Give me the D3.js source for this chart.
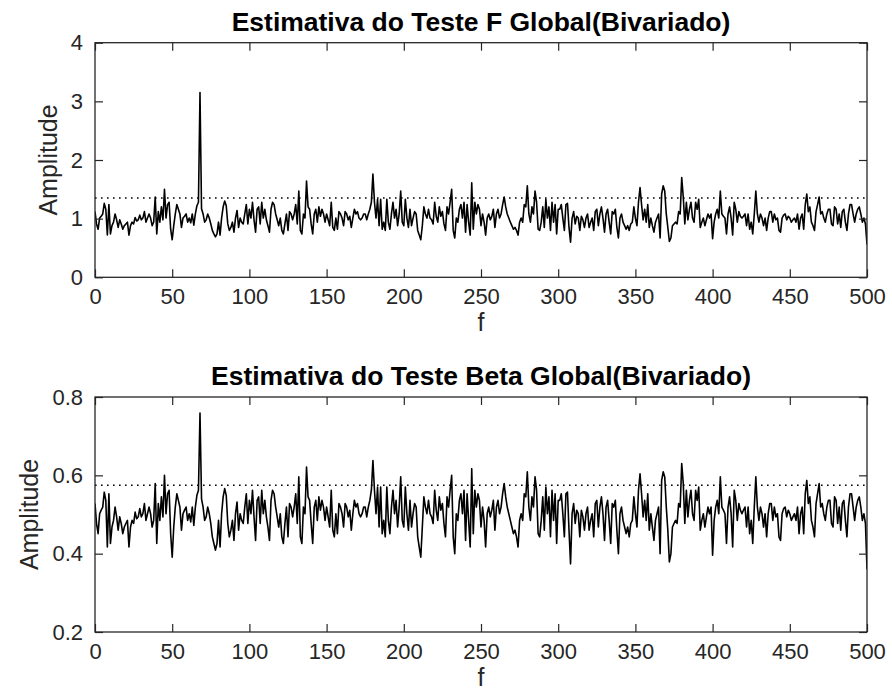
<!DOCTYPE html>
<html>
<head>
<meta charset="utf-8">
<script src="https://cdn.jsdelivr.net/npm/d3@7"></script>
<style>
  html, body { margin: 0; padding: 0; background: #ffffff; }
  svg { display: block; }
</style>
</head>
<body>
<svg id="chart" width="892" height="700"></svg>
<script>
// ---------------- DATA ----------------
const freqStart = 0;          // first frequency bin
const xTicks = [0, 50, 100, 150, 200, 250, 300, 350, 400, 450, 500];
const yTicksF = [0, 1, 2, 3, 4];
const yTicksBeta = [0.2, 0.4, 0.6, 0.8];
const titleF = "Estimativa do Teste F Global(Bivariado)";
const titleBeta = "Estimativa do Teste Beta Global(Bivariado)";
const yLabel = "Amplitude";
const xLabel = "f";
const thresholdF = 1.35;
const thresholdBeta = 0.575;

const valuesF = [
1.12,0.91,0.82,1.01,1.04,1.08,1.26,1.16,0.72,1.24,
0.74,0.88,0.94,1.08,0.98,0.85,0.98,0.91,0.82,0.88,
0.91,0.94,0.72,0.88,0.94,0.91,1.02,0.96,0.98,1.06,
0.98,1.01,1.12,0.94,1.01,1.08,1.01,0.88,0.94,1.37,
0.74,1.12,0.94,1.20,0.98,1.50,1.01,1.24,1.28,0.82,
0.64,0.88,1.08,1.24,1.16,1.08,0.85,1.01,1.04,1.08,
0.94,1.01,0.93,1.08,0.89,1.08,1.22,1.28,3.15,1.17,
1.08,0.94,0.98,1.08,1.01,0.91,0.80,0.74,0.69,0.74,
0.94,0.72,1.01,1.20,1.30,1.22,0.91,0.80,0.85,0.94,
0.77,1.01,1.14,0.85,1.01,0.94,0.91,1.08,1.24,0.91,
1.16,1.01,1.28,0.98,0.77,1.16,1.20,0.91,1.28,1.01,
1.16,0.98,0.88,0.77,1.16,1.28,1.24,1.08,0.98,0.88,
1.01,0.80,0.74,0.91,1.08,0.80,1.12,1.08,0.98,1.08,
1.24,0.91,1.47,0.80,0.74,1.08,1.01,1.64,1.20,1.16,
0.91,0.74,1.08,1.16,0.94,1.20,1.04,1.16,1.08,0.94,
1.08,0.98,0.88,1.28,0.85,0.80,1.01,0.82,1.12,1.08,
1.01,0.88,1.12,1.08,0.98,1.04,0.85,1.01,1.16,1.08,
1.12,1.01,0.98,1.01,1.08,1.08,0.98,1.08,1.16,1.28,
1.76,1.28,1.01,1.33,0.88,1.33,0.82,0.94,0.80,1.33,
0.94,0.82,1.08,1.28,1.01,1.16,0.88,1.08,1.47,0.94,
0.88,1.33,1.01,0.85,1.16,0.88,1.01,1.12,1.08,0.80,
0.72,0.64,0.88,1.20,1.08,1.01,1.16,1.01,0.98,0.91,
1.28,1.04,0.94,1.20,1.04,1.12,0.91,0.80,1.20,1.08,
1.28,1.50,0.80,0.67,1.01,0.94,1.16,1.24,1.01,1.28,
0.77,1.24,0.94,0.72,1.61,0.82,1.28,1.08,1.24,1.16,
0.88,1.08,0.94,0.72,1.01,1.08,0.98,1.04,1.16,0.85,
1.08,1.16,1.01,1.08,1.24,1.37,1.20,1.08,1.01,0.94,
0.88,0.82,0.85,0.80,0.72,0.94,1.01,0.94,1.24,1.20,
1.56,1.08,0.94,1.20,1.08,1.47,1.28,0.82,0.80,0.94,
1.20,0.85,1.33,1.01,1.20,0.80,1.28,0.94,1.24,0.74,
1.16,1.16,1.24,1.01,0.80,1.24,1.26,0.85,0.60,1.01,
1.12,0.91,1.04,1.01,0.80,1.04,0.98,0.85,1.01,1.08,
0.85,0.94,1.01,0.80,1.12,1.16,0.88,1.08,1.20,1.01,
0.77,1.08,1.16,0.94,0.74,1.12,1.08,1.16,0.85,0.67,
1.01,1.08,0.94,0.88,0.82,0.88,0.80,0.91,0.94,1.20,
1.01,0.88,1.28,1.53,1.24,0.98,1.16,0.94,1.24,0.85,
1.01,0.88,0.77,0.94,1.01,1.08,0.67,1.42,1.56,1.47,
1.08,0.85,0.61,0.67,0.88,0.91,0.94,0.91,1.12,1.08,
1.70,1.37,0.91,1.28,0.98,1.16,1.28,1.01,0.94,1.28,
1.16,1.33,0.85,0.94,1.01,0.88,0.98,1.08,1.01,1.08,
0.66,0.94,1.08,1.16,1.01,1.47,1.08,1.04,1.01,0.74,
1.08,1.20,1.01,0.72,1.28,1.16,0.94,1.12,1.04,1.01,
1.04,1.08,0.88,1.08,0.82,0.94,0.74,1.08,1.47,1.08,
0.94,1.08,1.01,0.88,1.01,0.80,1.01,1.12,1.12,0.94,
1.08,0.98,1.01,0.80,0.77,1.01,1.06,1.08,0.98,1.04,
1.01,0.94,0.98,1.01,0.94,1.08,0.82,1.01,1.08,0.82,
1.24,1.42,1.12,1.20,0.94,0.88,0.80,1.12,1.24,1.37,
1.08,1.12,1.01,0.94,1.08,1.16,1.16,0.91,0.88,1.20,
1.16,0.91,1.08,0.85,1.12,1.16,0.94,0.80,1.08,1.24,
1.24,1.08,0.94,1.08,1.16,1.20,1.08,0.94,1.01,0.91,
0.56];

const valuesBeta = [
0.528,0.477,0.451,0.502,0.511,0.519,0.557,0.536,0.417,0.553,
0.426,0.468,0.485,0.519,0.494,0.460,0.494,0.477,0.451,0.468,
0.477,0.485,0.417,0.468,0.485,0.477,0.506,0.489,0.494,0.515,
0.494,0.502,0.528,0.485,0.502,0.519,0.502,0.468,0.485,0.579,
0.426,0.528,0.485,0.545,0.494,0.600,0.502,0.553,0.562,0.451,
0.391,0.468,0.519,0.553,0.536,0.519,0.460,0.502,0.511,0.519,
0.485,0.502,0.481,0.519,0.472,0.519,0.549,0.562,0.759,0.540,
0.519,0.485,0.494,0.519,0.502,0.477,0.443,0.426,0.409,0.426,
0.485,0.417,0.502,0.545,0.566,0.549,0.477,0.443,0.460,0.485,
0.434,0.502,0.532,0.460,0.502,0.485,0.477,0.519,0.553,0.477,
0.536,0.502,0.562,0.494,0.434,0.536,0.545,0.477,0.562,0.502,
0.536,0.494,0.468,0.434,0.536,0.562,0.553,0.519,0.494,0.468,
0.502,0.443,0.426,0.477,0.519,0.443,0.528,0.519,0.494,0.519,
0.553,0.477,0.596,0.443,0.426,0.519,0.502,0.621,0.545,0.536,
0.477,0.426,0.519,0.536,0.485,0.545,0.511,0.536,0.519,0.485,
0.519,0.494,0.468,0.562,0.460,0.443,0.502,0.451,0.528,0.519,
0.502,0.468,0.528,0.519,0.494,0.511,0.460,0.502,0.536,0.519,
0.528,0.502,0.494,0.502,0.519,0.519,0.494,0.519,0.536,0.562,
0.638,0.562,0.502,0.570,0.468,0.570,0.451,0.485,0.443,0.570,
0.485,0.451,0.519,0.562,0.502,0.536,0.468,0.519,0.596,0.485,
0.468,0.570,0.502,0.460,0.536,0.468,0.502,0.528,0.519,0.443,
0.417,0.391,0.468,0.545,0.519,0.502,0.536,0.502,0.494,0.477,
0.562,0.511,0.485,0.545,0.511,0.528,0.477,0.443,0.545,0.519,
0.562,0.600,0.443,0.400,0.502,0.485,0.536,0.553,0.502,0.562,
0.434,0.553,0.485,0.417,0.617,0.451,0.562,0.519,0.553,0.536,
0.468,0.519,0.485,0.417,0.502,0.519,0.494,0.511,0.536,0.460,
0.519,0.536,0.502,0.519,0.553,0.579,0.545,0.519,0.502,0.485,
0.468,0.451,0.460,0.443,0.417,0.485,0.502,0.485,0.553,0.545,
0.609,0.519,0.485,0.545,0.519,0.596,0.562,0.451,0.443,0.485,
0.545,0.460,0.570,0.502,0.545,0.443,0.562,0.485,0.553,0.426,
0.536,0.536,0.553,0.502,0.443,0.553,0.557,0.460,0.374,0.502,
0.528,0.477,0.511,0.502,0.443,0.511,0.494,0.460,0.502,0.519,
0.460,0.485,0.502,0.443,0.528,0.536,0.468,0.519,0.545,0.502,
0.434,0.519,0.536,0.485,0.426,0.528,0.519,0.536,0.460,0.400,
0.502,0.519,0.485,0.468,0.451,0.468,0.443,0.477,0.485,0.545,
0.502,0.468,0.562,0.604,0.553,0.494,0.536,0.485,0.553,0.460,
0.502,0.468,0.434,0.485,0.502,0.519,0.400,0.587,0.609,0.596,
0.519,0.460,0.379,0.400,0.468,0.477,0.485,0.477,0.528,0.519,
0.630,0.579,0.477,0.562,0.494,0.536,0.562,0.502,0.485,0.562,
0.536,0.570,0.460,0.485,0.502,0.468,0.494,0.519,0.502,0.519,
0.396,0.485,0.519,0.536,0.502,0.596,0.519,0.511,0.502,0.426,
0.519,0.545,0.502,0.417,0.562,0.536,0.485,0.528,0.511,0.502,
0.511,0.519,0.468,0.519,0.451,0.485,0.426,0.519,0.596,0.519,
0.485,0.519,0.502,0.468,0.502,0.443,0.502,0.528,0.528,0.485,
0.519,0.494,0.502,0.443,0.434,0.502,0.515,0.519,0.494,0.511,
0.502,0.485,0.494,0.502,0.485,0.519,0.451,0.502,0.519,0.451,
0.553,0.587,0.528,0.545,0.485,0.468,0.443,0.528,0.553,0.579,
0.519,0.528,0.502,0.485,0.519,0.536,0.536,0.477,0.468,0.545,
0.536,0.477,0.519,0.460,0.528,0.536,0.485,0.443,0.519,0.553,
0.553,0.519,0.485,0.519,0.536,0.545,0.519,0.485,0.502,0.477,
0.360];

// ---------------- DRAWING ----------------
const svg = d3.select("#chart");
svg.append("rect").attr("width", 892).attr("height", 700).attr("fill", "#ffffff");

const FONT = "'Liberation Sans', Arial, Helvetica, sans-serif";
const AXC = "#262626";
const left = 95, right = 867;

function panel(cfg) {
  const x = d3.scaleLinear().domain([0, 500]).range([left, right]);
  const y = d3.scaleLinear().domain(cfg.yDomain).range([cfg.bottom, cfg.top]);
  const g = svg.append("g");
  const tl = 8;

  const pts = cfg.values.map((v, i) => [freqStart + i, v]);
  const clipId = "clip" + cfg.id;
  svg.append("clipPath").attr("id", clipId).append("rect")
    .attr("x", left).attr("y", cfg.top).attr("width", right - left).attr("height", cfg.bottom - cfg.top);

  // threshold dotted line
  g.append("line")
    .attr("x1", x(0)).attr("x2", x(500))
    .attr("y1", y(cfg.threshold)).attr("y2", y(cfg.threshold))
    .attr("stroke", "#000").attr("stroke-width", 1.5)
    .attr("stroke-dasharray", "1.6 4.4");

  // data line
  g.append("path")
    .datum(pts)
    .attr("clip-path", `url(#${clipId})`)
    .attr("fill", "none").attr("stroke", "#000").attr("stroke-width", 1.6)
    .attr("stroke-linejoin", "round")
    .attr("d", d3.line().x(d => x(d[0])).y(d => y(d[1])));

  // axes (ticks inside, mirrored on all four sides)
  const xb = g.append("g").attr("transform", `translate(0,${cfg.bottom})`)
    .call(d3.axisBottom(x).tickValues(xTicks).tickSizeInner(-tl).tickSizeOuter(0).tickPadding(11));
  const xt = g.append("g").attr("transform", `translate(0,${cfg.top})`)
    .call(d3.axisTop(x).tickValues(xTicks).tickSizeInner(-tl).tickSizeOuter(0).tickFormat(""));
  const yl = g.append("g").attr("transform", `translate(${left},0)`)
    .call(d3.axisLeft(y).tickValues(cfg.yTicks).tickSizeInner(-tl).tickSizeOuter(0).tickPadding(12)
      .tickFormat(cfg.fmt));
  const yr = g.append("g").attr("transform", `translate(${right},0)`)
    .call(d3.axisRight(y).tickValues(cfg.yTicks).tickSizeInner(-tl).tickSizeOuter(0).tickFormat(""));

  [xb, xt, yl, yr].forEach(a => {
    a.select(".domain").remove();
    a.selectAll(".tick line").attr("stroke", AXC).attr("stroke-width", 1.2);
    a.selectAll(".tick text").attr("fill", AXC).style("font-family", FONT).style("font-size", "22px");
  });

  // box
  g.append("rect")
    .attr("x", left).attr("y", cfg.top).attr("width", right - left).attr("height", cfg.bottom - cfg.top)
    .attr("fill", "none").attr("stroke", AXC).attr("stroke-width", 1.3);

  // title
  g.append("text")
    .attr("x", (left + right) / 2).attr("y", cfg.top - 12)
    .attr("text-anchor", "middle")
    .style("font-family", FONT).style("font-size", "26.5px").style("font-weight", "bold")
    .attr("fill", "#000")
    .text(cfg.title);

  // y label
  g.append("text")
    .attr("transform", `translate(${cfg.yLabelX},${(cfg.top + cfg.bottom) / 2}) rotate(-90)`)
    .attr("text-anchor", "middle")
    .style("font-family", FONT).style("font-size", "25px")
    .attr("fill", AXC)
    .text(yLabel);

  // x label
  g.append("text")
    .attr("x", (left + right) / 2).attr("y", cfg.bottom + 54)
    .attr("text-anchor", "middle")
    .style("font-family", FONT).style("font-size", "25px")
    .attr("fill", AXC)
    .text(xLabel);
}

panel({ id: "F", values: valuesF, yDomain: [0, 4], yTicks: yTicksF, top: 42.7, bottom: 277.3,
        threshold: thresholdF, title: titleF, fmt: d3.format("d"), yLabelX: 57 });
panel({ id: "B", values: valuesBeta, yDomain: [0.2, 0.8], yTicks: yTicksBeta, top: 397, bottom: 632,
        threshold: thresholdBeta, title: titleBeta, fmt: d3.format(".1f"), yLabelX: 38 });
</script>
</body>
</html>
